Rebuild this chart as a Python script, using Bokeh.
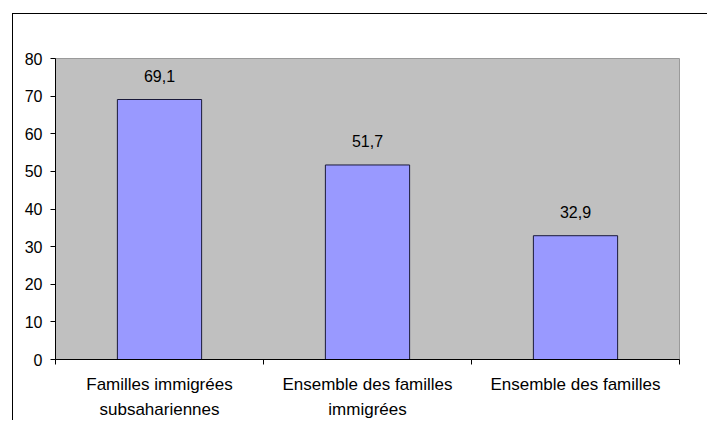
from bokeh.plotting import figure
from bokeh.models import (ColumnDataSource, FixedTicker, LinearAxis, LabelSet, Range1d)
from bokeh.core.properties import value
from bokeh.embed import file_html
from bokeh.resources import INLINE

categories = ["Familles immigrées subsahariennes", "Ensemble des familles immigrées", "Ensemble des familles"]
label_line1 = ["Familles immigrées", "Ensemble des familles", "Ensemble des familles"]
label_line2 = ["subsahariennes", "immigrées", ""]
values = [69.1, 51.7, 32.9]
value_labels = ["69,1", "51,7", "32,9"]
y_ticks = [0, 10, 20, 30, 40, 50, 60, 70, 80]

xs = [i + 0.5 for i in range(len(categories))]
src = ColumnDataSource(dict(x=xs, top=values, lab=value_labels, cat=categories))

FONT = "Liberation Sans"

p = figure(width=695, height=407, output_backend="svg", toolbar_location=None,
           x_range=Range1d(0, 3), y_range=Range1d(0, 80),
           min_border_left=42, min_border_right=29, min_border_top=44, min_border_bottom=60,
           background_fill_color="#C0C0C0", border_fill_color="white",
           outline_line_color="#9a9a9a", outline_line_width=1)
p.styles = {"margin-left": "12px", "margin-top": "13px",
            "border-left": "1px solid black", "border-top": "1px solid black"}

p.grid.visible = False
p.xaxis.visible = False

p.vbar(x="x", top="top", bottom=0, width=0.405, source=src,
       fill_color="#9999FF", line_color="#1a1a3a", line_width=1)

labels = LabelSet(x="x", y="top", text="lab", source=src, y_offset=24,
                  text_align="center", text_baseline="middle",
                  text_font=value(FONT), text_font_size=value("16px"), text_color="black")
p.add_layout(labels)

# y axis
p.yaxis.ticker = FixedTicker(ticks=y_ticks, minor_ticks=[])
p.yaxis.axis_line_color = "black"
p.yaxis.major_tick_line_color = "black"
p.yaxis.major_tick_in = 0
p.yaxis.major_tick_out = 5
p.yaxis.minor_tick_line_color = None
p.yaxis.major_label_text_font = FONT
p.yaxis.major_label_text_font_size = "16px"
p.yaxis.major_label_text_color = "black"
p.yaxis.major_label_standoff = 8

# x axis, first line of labels
ax1 = LinearAxis(ticker=FixedTicker(ticks=xs, minor_ticks=[0, 1, 2, 3]),
                 major_label_overrides={x: t for x, t in zip(xs, label_line1)},
                 axis_line_color="black", major_tick_line_color=None,
                 minor_tick_line_color="black", minor_tick_in=0, minor_tick_out=5,
                 major_label_text_font=FONT, major_label_text_font_size="17px",
                 major_label_text_color="black", major_label_standoff=9)
p.add_layout(ax1, "below")

# second line of labels
ax2 = LinearAxis(ticker=FixedTicker(ticks=xs, minor_ticks=[]),
                 major_label_overrides={x: t for x, t in zip(xs, label_line2)},
                 axis_line_color=None, major_tick_line_color=None,
                 minor_tick_line_color=None, major_tick_in=0, major_tick_out=0,
                 major_label_text_font=FONT, major_label_text_font_size="17px",
                 major_label_text_color="black", major_label_standoff=3)
p.add_layout(ax2, "below")

open("out.html", "w").write(file_html(p, INLINE))
